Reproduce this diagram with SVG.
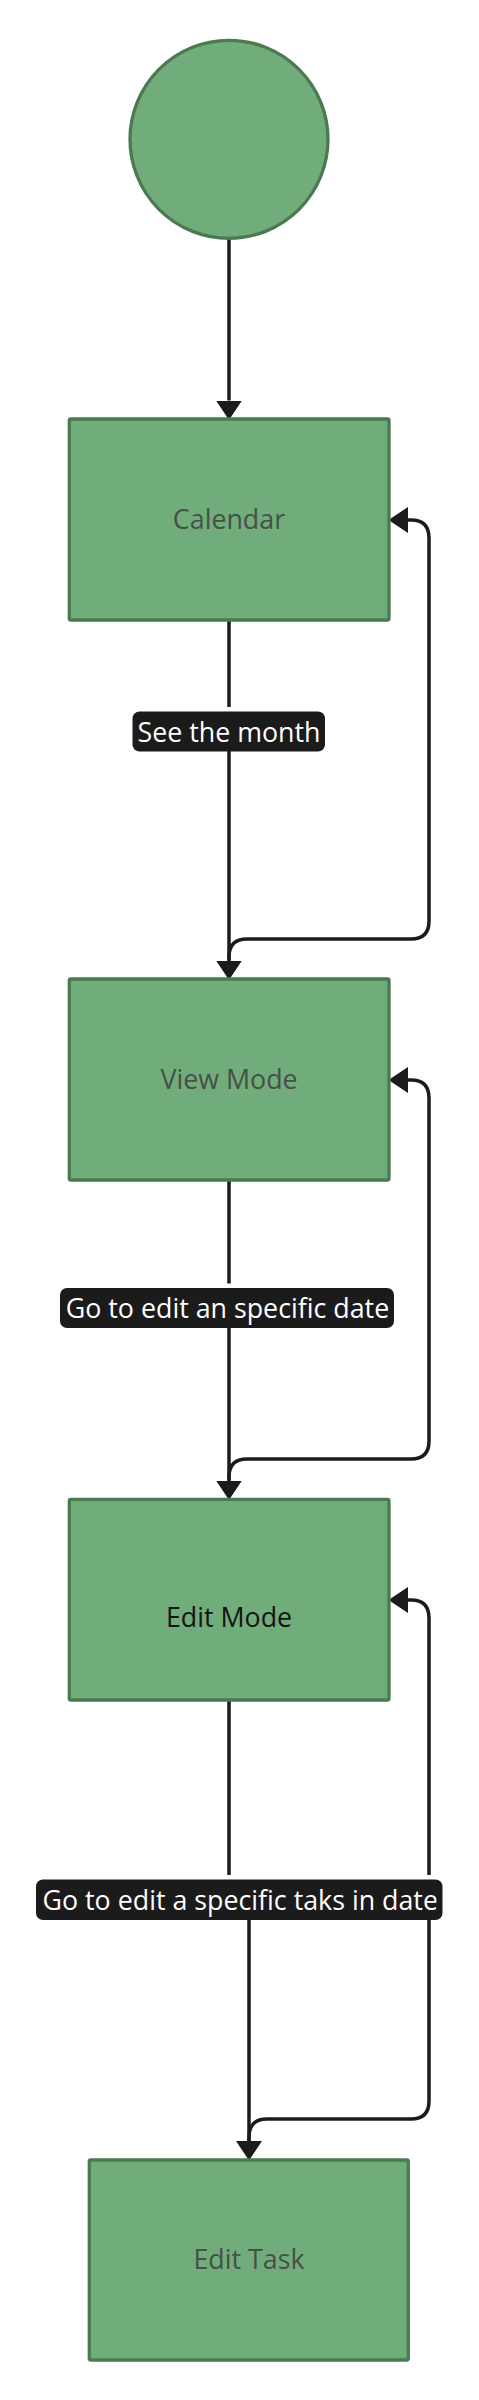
<svg xmlns="http://www.w3.org/2000/svg" width="479" height="2400" viewBox="0 0 479 2400">
<style>
.node{fill:#71ad7a;stroke:#4b7a52;stroke-width:3.3}
.ntext{font-family:"Open Sans","Noto Sans",sans-serif;font-size:26.8px;fill:#474f48;text-anchor:middle}
.edge{fill:none;stroke:#1b1b1b;stroke-width:3.5}
.lbl{fill:#1b1b1b}
.lmask{fill:#ffffff}
.ltext{font-family:"Open Sans","Noto Sans",sans-serif;font-size:26.8px;fill:#ffffff}
</style>
<defs>
<marker id="arr" markerUnits="userSpaceOnUse" markerWidth="20" markerHeight="26" viewBox="0 0 20 26" refX="0" refY="13" orient="auto">
<path d="M0,0 L19.5,13 L0,26 z" fill="#1b1b1b"/>
</marker>
<clipPath id="clip3"><rect x="36" y="1879" width="400.5" height="42"/></clipPath>
</defs>
<g id="connectors">
<path class="edge" d="M229,239 L229,400.5" marker-end="url(#arr)"/>
<path class="edge" d="M229,620 L229,960.5" marker-end="url(#arr)"/>
<path class="edge" d="M229,1180 L229,1480.5" marker-end="url(#arr)"/>
<path class="edge" d="M229,1700 L229,1900 L249,1900 L249,2141" marker-end="url(#arr)"/>
<path class="edge" d="M229,962 L229,957 Q229,939 247,939 L411,939 Q429,939 429,921 L429,538 Q429,520 411,520 L408,520" marker-end="url(#arr)"/>
<path class="edge" d="M229,1482 L229,1477 Q229,1459 247,1459 L411,1459 Q429,1459 429,1441 L429,1098 Q429,1080 411,1080 L408,1080" marker-end="url(#arr)"/>
<path class="edge" d="M249,2142 L249,2137 Q249,2119 267,2119 L411,2119 Q429,2119 429,2101 L429,1618 Q429,1600 411,1600 L408,1600" marker-end="url(#arr)"/>
</g>
<g id="edge-labels">
<g id="label-see-month">
<rect class="lmask" x="132.5" y="707" width="192.5" height="6"/>
<rect class="lbl" x="132.5" y="711.5" width="192.5" height="40" rx="7"/>
<text class="ltext" x="229" y="741.5" text-anchor="middle">See the month</text>
</g>
<g id="label-edit-date">
<rect class="lmask" x="60" y="1283.5" width="334" height="6"/>
<rect class="lbl" x="60" y="1288" width="334" height="40" rx="7"/>
<text class="ltext" x="227.5" y="1317.5" text-anchor="middle">Go to edit an specific date</text>
</g>
<g id="label-edit-task">
<rect class="lmask" x="36" y="1875" width="406.5" height="6"/>
<rect class="lbl" x="36" y="1879.5" width="406.5" height="40.5" rx="7"/>
<text class="ltext" x="42.5" y="1910" clip-path="url(#clip3)">Go to edit a specific taks in date</text>
</g>
</g>
<g id="start">
<circle class="node" cx="229" cy="139.3" r="99"/>
</g>
<g id="calendar">
<rect class="node" x="69.3" y="419" width="319.7" height="201" rx="1.5"/>
<text class="ntext" x="229" y="529">Calendar</text>
</g>
<g id="view-mode">
<rect class="node" x="69.3" y="979" width="319.7" height="201" rx="1.5"/>
<text class="ntext" x="229" y="1089">View Mode</text>
</g>
<g id="edit-mode">
<rect class="node" x="69.3" y="1499.3" width="319.7" height="200.7" rx="1.5"/>
<text class="ntext" x="229" y="1627.3" style="fill:#141414">Edit Mode</text>
</g>
<g id="edit-task">
<rect class="node" x="89.3" y="2160" width="319" height="200" rx="1.5"/>
<text class="ntext" x="249" y="2269.3">Edit Task</text>
</g>
</svg>
